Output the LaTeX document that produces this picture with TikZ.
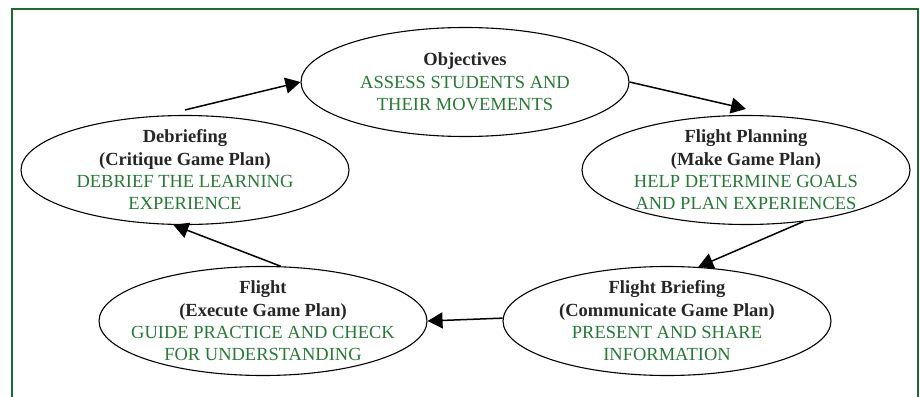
\documentclass[tikz,border=0pt]{standalone}
\usepackage{fontspec}
\setmainfont{Liberation Serif}
\usetikzlibrary{shapes.geometric,arrows.meta}
\definecolor{framegreen}{RGB}{30,105,45}
\definecolor{textgreen}{RGB}{40,120,55}
\newcommand{\gtxt}[1]{\textcolor{textgreen}{#1}}
\tikzset{
  stage/.style={draw, ellipse, line width=1.1pt, minimum width=328pt, minimum height=109pt,
    inner xsep=-60pt, inner ysep=-20pt, align=center,
    font=\fontsize{18.5}{22.3}\selectfont, text=black!85},
  flow/.style={line width=1.5pt, -{Triangle[length=15pt,width=16pt]}},
}
\begin{document}
\begin{tikzpicture}[x=1pt,y=-1pt]
\useasboundingbox (0,0) rectangle (920,396);
\clip (0,0) rectangle (920,396);
% open green frame
\draw[framegreen, line width=2.5pt] (12,410) -- (12,9) -- (918,9) -- (918,410);

\node[stage] (obj) at (465,82) {\textbf{Objectives}\\\gtxt{ASSESS STUDENTS AND}\\\gtxt{THEIR MOVEMENTS}};
\node[stage] (deb) at (185,170) {\textbf{Debriefing}\\\textbf{(Critique Game Plan)}\\\gtxt{DEBRIEF THE LEARNING}\\\gtxt{EXPERIENCE}};
\node[stage] (fpl) at (746,170) {\textbf{Flight Planning}\\\textbf{(Make Game Plan)}\\\gtxt{HELP DETERMINE GOALS}\\\gtxt{AND PLAN EXPERIENCES}};
\node[stage] (fli) at (263,321) {\textbf{Flight}\\\textbf{(Execute Game Plan)}\\\gtxt{GUIDE PRACTICE AND CHECK}\\\gtxt{FOR UNDERSTANDING}};
\node[stage] (fbr) at (667,321) {\textbf{Flight Briefing}\\\textbf{(Communicate Game Plan)}\\\gtxt{PRESENT AND SHARE}\\\gtxt{INFORMATION}};

\draw[flow] ([yshift=5pt]deb.north) -- (obj.west);
\draw[flow] (obj.east) -- ([yshift=6pt]fpl.north);
\draw[flow] (fpl.-42) -- (fbr.60);
\draw[flow] (fbr.179) -- (fli.east);
\draw[flow] (fli.72) -- (deb.-102);
\end{tikzpicture}
\end{document}
